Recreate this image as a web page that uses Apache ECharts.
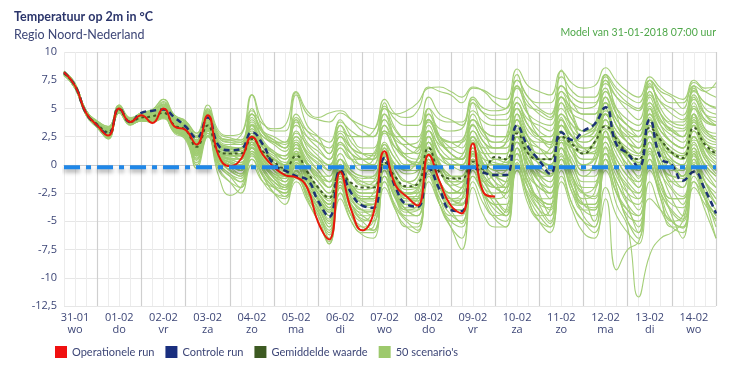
<!DOCTYPE html>
<html><head><meta charset="utf-8">
<script src="https://cdn.jsdelivr.net/npm/echarts@6/dist/echarts.min.js"></script>
<style>html,body{margin:0;padding:0;background:#fff}#c{width:732px;height:368px}</style>
</head><body><div id="c"></div>
<script>
// Days shown on the x axis and their weekday abbreviations
const days = ['31-01','01-02','02-02','03-02','04-02','05-02','06-02','07-02','08-02','09-02','10-02','11-02','12-02','13-02','14-02','15-02'];
const dayNames = ['wo','do','vr','za','zo','ma','di','wo','do','vr','za','zo','ma','di','wo'];
const hours = ['00','06','12','18'];
const yTicks = {min: -12.5, max: 10, step: 2.5};
const refLevel = -0.2;

// 6-hourly values from 31-01 06:00 to 15-02 00:00 (60 points)
const operationeel = [8.2,7.0,4.6,3.5, 2.6,5.0,3.8,4.4, 3.7,5.0,3.4,3.1, 1.8,4.4,0.8,-0.1, 0.5,2.5,0.9,-0.2, -0.9,-1.1,-2.0,-5.1, -6.6,-0.6,-4.0,-5.8, -4.3,1.2,-1.8,-2.8, -3.6,0.9,-1.5,-3.6, -4.3,1.9,-2.5,-2.8];
const controle = [8.2,7.0,4.6,3.5, 2.7,5.0,3.8,4.6, 4.8,4.9,4.2,3.4, 2.4,4.2,1.7,1.3, 1.4,2.9,1.8,0.0, -0.5,-1.0,-1.3,-3.2, -4.6,-0.5,-2.5,-3.6, -3.8,0.6,-2.0,-3.5, -3.7,-0.3,-2.2,-4.0, -4.1,-0.2,-0.7,-0.9, -0.9,3.5,1.6,0.4, -0.8,2.9,2.2,3.0, 3.6,5.1,1.8,1.0, -0.2,4.0,0.6,0.0, -1.4,-0.6,-2.2,-4.3];
const gemiddeld = [8.1,7.0,4.6,3.6, 2.9,4.9,3.8,4.2, 4.3,4.6,3.5,3.1, 1.6,3.5,1.2,1.0, 1.0,2.3,1.2,0.3, -0.3,0.8,-0.6,-2.0, -2.9,-0.7,-1.6,-2.0, -2.0,0.2,-1.1,-1.9, -1.7,1.5,-0.7,-1.2, -1.2,0.3,-0.4,0.7, 0.5,2.8,1.0,0.5, 0.5,2.5,1.8,1.0, 2.0,3.4,2.3,1.0, 0.5,3.3,2.2,1.1, 0.6,3.3,1.8,1.0];

const scenarios = [
[8.1,7.0,4.8,3.8,3.2,5.2,4.0,4.5,4.7,5.3,4.0,3.6, 2.5,4.8,2.6,2.2, 2.0,4.5,2.8,2.0, 1.5,3.8,2.0,1.2, 0.5,2.8,1.5,1.0, 0.8,3.5,2.2,1.8, 2.0,4.5,3.2,3.0, 3.2,5.5,4.6,4.4, 4.5,6.8,5.2,4.8, 4.2,6.5,5.5,5.0, 5.2,7.2,6.0,5.3, 4.8,6.9,5.6,5.0, 4.4,6.6,5.5,5.1],
[8.0,6.8,4.4,3.3,2.4,4.6,3.6,3.9,3.8,4.2,2.9,2.5, 0.5,2.8,0.2,-0.8, -1.5,1.5,-0.5,-1.8, -2.8,-0.6,-2.5,-3.8, -5.5,-1.5,-3.8,-5.0, -5.8,-1.5,-3.6,-4.8, -5.2,-0.8,-3.0,-4.4, -5.0,-0.5,-2.8,-3.6, -4.5,0.2,-2.0,-3.2, -4.0,0.8,-1.2,-2.5, -2.8,1.6,-0.5,-1.8, -3.0,1.2,-0.8,-2.2, -3.5,0.8,-1.0,-2.0],
[8.2,7.1,4.7,3.7,3.0,5.0,3.9,4.3,4.4,4.8,3.6,3.2, 1.0,4.2,1.0,0.2, 0.0,3.5,0.8,-0.5, -1.5,1.8,-0.8,-2.5, -3.8,0.5,-2.0,-3.5, -3.8,1.5,-1.2,-2.8, -3.0,2.5,-0.2,-2.0, -2.5,2.2,0.0,-1.5, -2.0,4.5,1.2,-0.8, -1.5,4.2,1.5,0.0, 0.8,5.5,2.2,0.5, -1.2,5.0,2.0,-0.2, -1.0,4.5,1.5,0.2],
[8.2,7.0,4.6,3.6,3.1,5.1,4.1,4.6,4.9,5.8,4.4,3.9, 2.8,5.3,3.0,2.6, 2.8,6.2,3.8,3.0, 3.0,6.4,4.5,4.0, 3.8,4.6,4.0,3.5, 3.2,5.8,4.5,4.2, 4.8,6.9,6.5,6.2, 5.5,6.8,6.6,6.0, 5.8,8.5,7.0,6.5, 6.2,8.3,7.2,6.8, 7.0,8.6,7.4,6.5, 6.0,7.8,6.8,6.2, 5.8,7.5,6.8,6.9],
[8.0,6.9,4.5,3.5,2.8,4.8,3.7,4.1,4.1,4.4,3.3,2.9, 1.2,3.2,0.8,0.5, 0.2,2.0,0.5,-0.8, -1.0,1.0,-1.5,-3.0, -4.5,-1.0,-2.5,-3.6, -3.5,0.5,-1.8,-2.6, -2.2,1.6,-0.5,-1.8, -1.5,0.8,-1.0,-2.0, -2.5,1.5,-1.5,-3.0, -3.5,0.5,-2.0,-3.5, -3.8,0.0,-3.5,-5.5, -11.7,-8.0,-6.5,-6.0, -5.0,-1.5,-3.0,-4.5],
[8.1,6.9,4.6,3.5,3.0,4.8,3.6,4.0,3.9,4.3,3.0,2.6, 1.4,3.6,1.0,0.6, 0.5,2.0,0.8,-0.2, -0.8,0.5,-1.2,-2.5, -3.5,-0.5,-2.2,-3.0, -3.0,0.0,-1.6,-2.8, -3.2,0.5,-1.8,-3.0, -3.4,-0.2,-1.5,-3.0, -4.2,-0.5,-2.8,-4.5, -5.5,-1.0,-3.5,-5.0, -6.0,-3.0,-9.3,-7.5, -6.8,-3.0,-4.0,-5.0, -5.6,-2.0,-3.5,-4.8],
[8.3,7.2,4.8,3.7,2.9,5.1,3.9,4.4,4.5,5.0,3.8,3.3, 2.0,4.6,2.4,2.2, 2.6,4.8,3.6,3.2, 3.5,6.5,4.8,4.2, 4.6,4.8,4.0,3.0, 2.5,5.0,3.2,2.0, 1.5,4.0,2.2,1.0, 0.5,3.6,2.0,1.5, 1.5,5.0,3.5,2.5, 2.0,5.5,4.0,3.0, 3.0,6.0,4.0,2.8, 2.0,5.5,3.8,3.2, 2.5,5.2,4.0,3.5],
[8.0,6.8,4.5,3.4,2.3,4.7,3.7,4.0,4.2,4.6,3.4,2.8, 1.2,3.0,0.5,0.0, -0.5,1.5,0.0,-1.2, -2.0,-0.5,-2.5,-4.2, -6.0,-2.0,-4.5,-5.5, -5.0,-0.5,-3.0,-4.0, -4.0,0.0,-2.5,-3.5, -3.0,1.0,-1.2,-2.0, -1.5,2.5,0.5,-0.5, -0.8,3.0,1.5,0.5, 0.5,4.0,2.0,0.8, 0.0,4.2,2.2,1.0, 0.5,3.8,2.0,1.2],
[8.2,7.1,4.8,3.9,3.4,5.0,4.0,4.5,4.5,4.9,3.7,3.4, 2.0,4.0,1.8,1.5, 1.2,3.2,1.8,1.0, 0.5,2.5,0.8,-0.5, -1.5,1.0,-0.5,-1.0, -1.2,2.0,0.5,-0.2, 0.0,3.0,1.0,0.5, 0.8,3.5,2.0,1.5, 2.0,5.0,3.0,2.2, 1.8,4.5,3.0,2.5, 3.0,5.5,3.5,2.5, 1.5,5.2,3.5,2.6, 2.0,5.0,3.2,2.8],
[7.9,6.9,4.6,3.7,3.3,5.3,4.2,4.4,4.3,4.7,3.1,2.2, 0.0,3.0,0.0,-1.0, -2.0,1.0,-1.0,-2.5, -3.5,-0.5,-2.8,-4.5, -7.0,-2.5,-5.0,-6.2, -6.5,-1.0,-4.0,-5.5, -6.0,0.5,-3.5,-5.5, -6.5,0.5,-3.0,-4.8, -5.5,1.5,-2.0,-4.0, -5.2,2.0,-1.0,-3.5, -3.5,3.0,0.0,-2.5, -4.0,2.5,-0.5,-3.0, -4.5,1.5,-1.5,-3.5],
[8.2,7.0,4.6,3.5,2.7,5.0,3.8,4.5,4.7,4.9,4.1,3.4, 2.2,4.2,1.6,1.2, 1.4,2.8,1.6,0.2, -0.4,-0.8,-1.5,-3.0, -4.2,-0.2,-2.2,-3.2, -3.5,0.8,-1.8,-3.2, -3.2,0.2,-2.0,-3.5, -3.6,0.2,-0.5,-0.8, -0.5,3.2,1.5,0.5, -0.5,3.0,2.0,2.6, 3.2,4.8,2.2,1.2, 0.2,3.8,1.0,0.3, -1.0,0.2,-1.5,-3.0],
[8.1,7.0,4.5,3.4,2.7,4.7,3.5,4.0,4.0,4.5,3.2,2.7, 1.8,3.8,1.4,1.0, 1.0,2.6,1.0,0.0, -0.5,1.5,0.0,-1.2, -2.0,0.5,-1.0,-1.8, -1.5,1.8,-0.5,-1.5, -1.0,2.5,0.2,-1.0, -1.5,1.5,-0.5,-2.0, -2.5,1.5,-1.5,-3.0, -3.5,0.0,-2.5,-4.0, -4.5,-0.5,-2.5,-4.0, -5.5,0.0,-2.5,-4.2, -5.0,-0.5,-3.0,-4.5],
[8.0,7.0,4.7,3.6,2.5,4.9,3.8,4.3,4.6,5.5,4.2,3.8, 1.5,4.0,1.5,1.2, 1.0,3.5,1.5,0.5, 0.0,2.0,0.2,-1.0, -1.0,2.5,1.0,0.0, 0.5,4.0,2.0,0.8, 0.5,4.5,2.5,1.5, 1.0,4.5,2.8,2.0, 2.5,7.0,4.5,3.0, 2.5,6.5,4.5,3.0, 3.5,7.5,5.0,3.5, 3.0,7.2,5.0,3.8, 3.5,6.8,5.0,4.5],
[8.1,7.0,4.6,3.6,2.9,4.9,3.8,4.2,4.3,4.7,3.5,3.1, 1.6,3.4,1.2,0.8, 0.8,2.2,1.0,0.0, -0.8,0.6,-0.8,-2.2, -3.0,-0.5,-1.8,-2.5, -2.5,0.5,-1.0,-2.0, -2.0,1.2,-0.5,-1.5, -1.5,0.5,-0.2,0.5, 0.2,2.5,1.0,0.2, 0.0,2.2,1.5,1.0, 1.8,3.2,2.0,0.8, 0.2,3.0,2.0,1.0, 0.5,3.0,1.5,0.8],
[8.0,6.9,4.5,3.5,2.8,4.8,3.7,4.1,4.0,4.3,3.0,2.4, 0.8,2.6,-0.5,-1.5, -2.0,0.5,-1.0,-2.0, -2.5,-1.0,-2.0,-3.0, -4.0,-1.5,-2.5,-3.0, -2.5,1.0,0.0,-0.5, 0.5,3.0,1.8,1.5, 2.0,4.0,3.0,2.5, 2.5,5.5,3.5,2.5, 1.5,4.0,2.5,1.5, 1.0,4.5,2.0,0.5, -0.5,3.5,1.5,0.0, -1.0,2.5,0.5,-0.5],
[8.2,7.1,4.8,3.8,3.1,5.2,4.1,4.6,4.8,5.4,4.2,3.7, 2.2,4.5,2.2,1.8, 1.8,3.8,2.5,2.0, 1.5,3.5,2.5,2.0, 1.5,3.0,2.5,2.5, 3.0,5.0,4.5,4.8, 5.5,6.8,6.9,6.5, 6.0,6.9,6.5,5.5, 5.0,7.5,6.0,5.0, 4.5,7.0,6.0,5.5, 5.5,7.8,6.5,5.5, 5.0,7.5,6.2,5.5, 5.5,7.3,6.5,6.0],
[8.0,6.8,4.4,3.3,2.5,4.7,3.6,3.9,3.9,4.3,3.0,2.6, 0.8,3.0,0.5,-0.5, -1.0,1.2,-0.5,-1.5, -2.0,0.0,-2.0,-3.5, -5.0,-1.2,-3.0,-4.0, -4.5,0.0,-2.5,-4.0, -4.5,1.0,-2.0,-4.0, -5.2,1.0,-2.5,-4.5, -5.0,1.0,-3.0,-5.0, -6.0,-0.5,-3.5,-5.0, -5.5,0.5,-2.5,-4.0, -4.5,1.0,-2.0,-3.5, -3.8,0.5,-2.0,-3.5],
[8.1,7.0,4.6,3.6,3.0,5.0,3.9,4.3,4.4,4.9,3.6,3.2, 1.3,3.6,1.3,1.0, 0.5,2.8,1.2,0.5, -0.2,1.8,0.2,-1.0, -2.0,0.5,-0.8,-1.5, -1.8,1.0,-0.5,-1.5, -1.8,2.0,0.0,-1.0, -1.5,1.0,0.0,-0.5, -1.0,3.0,1.5,0.5, 0.0,3.5,2.5,2.0, 2.5,4.5,3.0,2.0, 1.0,4.5,3.0,2.0, 1.5,4.0,2.5,2.0],
[8.2,7.0,4.6,3.5,2.6,4.8,3.7,4.2,4.2,4.6,3.3,2.9, 1.0,3.5,0.8,0.2, -0.5,2.0,0.0,-1.0, -1.5,1.2,-1.0,-2.5, -3.5,0.0,-2.0,-3.0, -3.0,1.5,-1.0,-2.5, -2.5,2.0,-0.5,-2.0, -2.5,2.5,0.0,-1.5, -3.0,3.5,0.0,-2.5, -4.5,2.5,-1.0,-3.5, -4.0,3.0,-0.5,-3.5, -6.0,2.0,-1.5,-4.5, -6.5,1.0,-2.5,-5.5],
[8.3,7.2,4.8,3.7,3.0,5.1,4.0,4.5,4.6,5.1,3.9,3.5, 2.4,4.4,2.4,2.0, 2.0,3.6,2.5,1.8, 1.2,2.8,1.8,0.8, 0.0,1.8,1.0,0.5, 0.5,2.8,1.5,1.0, 1.2,3.8,2.5,2.0, 2.2,4.8,3.8,3.5, 3.5,6.0,4.5,3.8, 3.5,6.0,5.0,4.5, 4.5,6.5,5.0,4.0, 3.5,6.2,4.5,3.8, 3.8,5.8,4.5,4.2],
[8.0,6.9,4.5,3.5,2.7,4.8,3.7,4.0,4.0,4.4,3.1,2.7, 1.0,3.2,0.6,-0.2, -0.8,1.6,-0.2,-1.5, -2.2,-0.5,-3.0,-5.0, -7.0,-2.0,-4.5,-5.8, -5.5,0.0,-2.5,-3.5, -3.5,0.5,-2.0,-3.2, -3.0,1.2,-1.0,-2.0, -2.5,2.0,0.0,-1.5, -2.0,2.0,0.5,-1.0, -1.0,3.0,1.0,-0.5, -1.5,3.0,0.5,-1.0, -1.0,2.5,0.5,-0.8],
[8.1,7.0,4.6,3.6,2.9,4.9,3.8,4.2,4.2,4.5,3.4,3.0, 1.8,3.2,1.5,1.2, 1.0,2.0,1.2,0.6, 0.0,1.0,0.0,-1.0, -1.5,0.0,-0.8,-1.2, -1.0,0.8,0.0,-0.5, -0.5,1.5,0.5,0.0, 0.0,1.2,0.5,0.2, 0.0,2.0,1.0,0.5, 0.5,2.0,1.5,1.0, 1.2,2.5,1.5,0.8, 0.5,2.5,1.5,1.0, 0.8,2.2,1.5,1.0],
[8.0,6.9,4.5,3.4,2.6,4.8,3.7,4.1,4.1,4.4,3.2,2.8, 1.0,3.0,0.8,0.0, -0.5,1.8,0.0,-1.0, -1.5,0.5,-1.5,-3.0, -4.5,-1.0,-3.0,-4.0, -4.0,0.0,-2.5,-4.0, -4.5,-0.5,-3.5,-5.5, -7.5,-2.0,-4.5,-5.5, -5.5,0.0,-3.0,-4.5, -4.0,1.0,-1.5,-3.0, -2.5,2.0,-0.5,-2.0, -2.5,2.0,0.0,-1.5, -2.0,1.5,0.0,-1.0],
[8.1,7.0,4.7,3.7,3.1,5.0,3.9,4.4,4.6,5.2,3.9,3.4, 1.5,4.8,1.8,1.0, 0.5,5.0,2.0,0.5, 0.0,4.0,1.5,0.5, -0.5,3.5,1.5,0.5, 0.0,5.5,2.0,0.5, 0.0,5.0,2.5,1.0, 0.5,5.5,3.0,1.5, 2.0,8.0,4.5,2.5, 2.0,8.4,4.5,2.5, 3.0,8.0,4.5,2.5, 2.5,7.5,4.5,3.0, 2.5,7.0,4.5,3.5],
[8.1,7.0,4.6,3.6,2.8,4.9,3.8,4.2,4.2,4.6,3.4,3.0, 1.4,3.3,1.0,0.5, 0.2,2.0,0.6,-0.5, -1.0,0.2,-1.2,-2.8, -4.0,-1.0,-2.5,-3.2, -3.2,0.0,-1.8,-2.8, -2.8,0.8,-1.5,-2.5, -2.5,0.0,-1.5,-1.0, -1.0,2.0,0.0,-1.0, -1.5,1.5,0.0,-1.0, 0.0,2.5,0.5,-1.0, -1.5,2.0,0.0,-1.0, -1.2,1.8,-0.2,-1.5],
[8.2,7.1,4.8,3.8,3.2,5.2,4.0,4.5,4.7,5.3,4.0,3.6, 2.2,4.6,2.0,1.6, 1.5,4.0,2.2,1.2, 0.8,3.0,1.0,0.0, -1.0,1.5,0.5,0.0, 0.0,3.5,1.5,0.5, 0.2,3.0,1.0,0.0, -0.5,2.0,0.0,-1.0, -1.5,2.5,-0.5,-2.0, -2.5,1.5,-1.0,-2.5, -3.0,1.0,-1.5,-3.0, -3.5,1.5,-1.5,-3.0, -3.0,1.0,-1.5,-3.0],
[8.0,6.8,4.4,3.3,2.4,4.6,3.6,3.9,3.8,4.2,2.9,2.5, 0.6,2.8,0.2,-0.8, -1.2,1.0,-0.8,-2.0, -2.5,-1.0,-2.8,-4.5, -6.2,-2.5,-4.5,-5.5, -5.8,-1.5,-3.8,-5.0, -5.8,-1.0,-3.5,-5.0, -5.5,-1.5,-3.5,-4.5, -4.0,0.5,-1.5,-3.0, -3.0,1.5,-0.5,-2.0, -2.0,2.0,0.0,-1.5, -2.5,2.0,0.0,-2.0, -2.8,1.2,-0.5,-2.0],
[8.2,7.0,4.6,3.6,3.0,5.0,3.8,4.3,4.4,4.8,3.6,3.2, 1.7,3.7,1.3,0.9, 0.8,2.5,1.0,0.2, -0.5,1.0,-0.5,-1.5, -2.5,0.0,-1.0,-1.5, -1.5,1.5,0.0,-0.8, -0.5,2.5,1.0,0.5, 0.5,2.5,1.5,1.5, 1.5,4.0,2.5,2.0, 2.0,4.5,3.5,3.0, 3.5,5.5,4.0,3.0, 2.5,5.5,4.0,3.0, 3.0,5.0,3.8,3.5],
[7.9,6.9,4.5,3.5,2.6,4.7,3.6,4.0,3.8,4.1,2.8,2.3, 0.2,2.5,-0.3,-1.5, -2.5,0.0,-1.5,-2.0, -2.5,-0.5,-2.0,-3.5, -5.0,-2.0,-3.5,-4.5, -5.0,-1.0,-3.0,-4.2, -4.0,0.0,-2.0,-3.0, -2.5,1.5,0.0,-1.0, -2.0,3.0,0.5,-1.5, -3.0,2.5,0.0,-2.5, -5.0,1.0,-2.0,-5.0, -6.5,0.5,-3.0,-5.5, -5.5,0.0,-3.0,-5.0],
[8.2,7.1,4.8,3.8,3.3,5.3,4.1,4.6,4.8,5.6,4.3,3.8, 2.8,5.0,2.8,2.4, 2.2,4.5,3.0,2.2, 1.8,4.5,3.0,2.0, 1.0,4.0,2.5,1.5, 1.5,4.5,3.0,2.0, 1.5,4.0,2.5,2.0, 1.5,4.0,2.5,2.0, 2.0,5.5,3.5,2.5, 2.5,6.0,4.0,3.0, 3.5,6.8,4.5,3.5, 3.0,6.5,4.5,3.5, 3.2,6.2,4.5,3.8],
[8.1,7.0,4.6,3.6,2.8,4.9,3.8,4.3,4.3,4.7,3.5,3.1, 1.5,3.8,1.2,0.6, 0.5,2.6,1.0,-0.2, -1.0,1.0,-0.8,-2.2, -3.2,-0.5,-1.8,-2.5, -2.5,0.8,-1.0,-2.2, -2.0,2.0,0.0,-1.5, -2.0,1.0,-0.5,-1.0, -1.5,4.0,1.0,-1.0, -2.0,4.0,1.5,-0.5, -0.5,5.0,2.0,-0.5, -2.0,5.0,1.5,-1.0, -2.0,4.5,1.0,-0.5],
[8.0,6.9,4.6,3.5,2.7,4.8,3.7,4.1,4.0,4.4,3.2,2.8, 1.2,3.0,0.6,0.0, -0.5,1.2,0.0,-1.0, -1.8,-0.2,-1.8,-3.2, -4.8,-1.8,-3.2,-4.0, -4.2,-1.0,-2.8,-3.8, -3.8,-0.5,-2.5,-3.8, -4.0,-1.0,-2.5,-3.5, -3.5,0.0,-2.0,-3.5, -3.8,0.0,-2.0,-3.5, -3.5,0.5,-1.5,-3.5, -4.5,-0.5,-2.5,-4.0, -4.8,-1.0,-3.0,-4.5],
[8.2,7.0,4.7,3.7,3.1,5.1,4.0,4.5,4.6,5.2,3.9,3.5, 2.0,4.5,2.0,1.5, 1.5,6.2,3.0,2.0, 2.0,6.2,3.5,2.5, 1.0,3.5,2.0,1.0, 0.5,4.5,2.0,0.5, 0.0,3.5,1.5,0.5, 0.0,3.0,1.0,0.0, 0.5,5.0,2.5,1.0, 1.0,5.5,3.0,1.5, 1.5,6.0,3.5,2.0, 1.0,6.0,3.5,2.0, 1.5,5.5,3.2,2.2],
[8.1,7.0,4.6,3.6,2.9,4.9,3.8,4.2,4.3,4.6,3.5,3.1, 1.5,3.5,1.1,0.8, 0.8,2.4,1.0,0.0, -0.6,0.8,-0.6,-2.0, -2.8,-0.8,-1.8,-2.2, -2.0,0.2,-1.2,-2.0, -1.5,1.5,-0.5,-1.2, -1.0,0.5,-0.2,0.5, 0.5,3.0,1.2,0.5, 0.5,2.8,2.0,1.2, 2.0,3.5,2.5,1.2, 0.8,3.5,2.2,1.2, 0.8,3.5,2.0,1.2],
[8.0,6.8,4.4,3.3,2.4,4.6,3.6,3.9,3.8,4.2,2.9,2.5, -0.3,2.5,-1.0,-2.7, -2.0,0.5,-1.5,-2.5, -2.8,-1.2,-2.5,-3.8, -5.2,-1.8,-3.5,-4.2, -4.0,0.0,-2.0,-3.0, -2.5,1.5,-0.5,-1.5, -1.5,2.0,0.5,-0.5, -0.5,3.5,1.5,0.0, -1.0,3.0,1.0,-0.5, 0.0,4.0,1.5,0.0, -1.0,3.5,1.0,-0.5, -0.5,3.0,1.0,0.0],
[8.3,7.2,4.8,3.7,2.9,5.1,3.9,4.4,4.5,5.0,3.8,3.3, 1.8,4.0,1.8,1.4, 1.2,3.0,1.8,1.2, 0.5,2.2,1.0,0.2, -0.5,1.5,0.5,0.5, 1.0,3.0,2.5,2.5, 2.5,5.0,4.0,3.8, 3.8,6.0,5.0,4.8, 5.0,7.5,6.0,5.5, 5.5,7.8,6.5,6.0, 6.0,8.0,6.8,6.0, 5.5,7.5,6.5,6.0, 5.0,7.0,6.5,7.3],
[8.0,6.9,4.5,3.5,2.8,4.8,3.7,4.1,4.1,4.4,3.3,2.9, 0.8,2.8,0.4,-0.4, -0.8,1.5,-0.3,-1.5, -2.0,0.0,-2.0,-3.8, -5.5,-1.5,-3.5,-4.5, -4.5,-0.5,-2.8,-4.0, -3.5,0.0,-2.5,-3.8, -4.0,-0.5,-2.5,-4.0, -4.5,-0.5,-3.5,-5.0, -5.5,-1.5,-4.0,-6.0, -6.5,-2.0,-4.5,-6.0, -7.0,-1.5,-4.0,-5.5, -6.0,-1.5,-4.0,-6.5],
[8.2,7.1,4.8,3.9,3.4,5.0,4.0,4.5,4.5,4.9,3.7,3.4, 2.0,4.2,1.8,1.4, 1.5,3.5,2.0,1.0, 0.0,2.0,0.5,-0.5, -1.5,2.0,0.5,-0.5, -0.5,3.0,1.0,0.0, 0.5,4.0,2.0,1.0, 0.5,3.5,2.0,1.0, 1.0,4.5,2.5,1.5, 0.5,4.0,2.5,1.5, 1.5,4.5,2.5,1.0, 0.0,4.0,2.0,0.5, 0.0,3.5,1.5,0.5],
[8.1,6.9,4.6,3.5,3.0,4.8,3.6,4.0,3.9,4.3,3.0,2.6, 1.1,3.3,0.7,0.0, -0.5,1.8,0.2,-1.2, -1.8,0.2,-2.2,-4.0, -6.5,-1.5,-4.0,-5.0, -4.0,1.0,-1.5,-2.5, -2.0,2.0,0.0,-1.0, -1.0,2.5,1.0,0.0, 0.0,4.0,2.0,0.5, 0.0,3.5,2.0,1.0, 1.0,4.5,2.5,1.0, 0.0,4.5,2.5,1.0, 0.5,4.0,2.0,1.5],
[8.1,7.0,4.6,3.6,2.9,5.0,3.8,4.3,4.3,4.7,3.4,3.0, 1.3,3.5,1.0,0.4, 0.0,2.0,0.5,-0.5, -1.0,1.0,-1.0,-2.5, -3.5,-0.5,-2.0,-3.0, -3.0,1.0,-1.5,-3.0, -3.0,1.5,-1.5,-3.0, -3.5,1.0,-1.5,-3.0, -4.0,2.5,-1.0,-3.5, -5.0,1.5,-2.0,-4.5, -5.5,1.5,-2.0,-5.0, -6.0,1.5,-2.5,-5.0, -5.5,0.5,-3.0,-6.5],
[8.2,7.0,4.6,3.6,3.1,5.1,4.1,4.6,4.9,5.8,4.4,3.9, 2.6,4.9,2.6,2.2, 2.2,4.5,3.0,2.5, 2.0,4.2,2.5,1.5, 0.5,2.5,1.5,1.0, 1.0,4.0,2.5,1.5, 1.0,4.0,2.0,1.0, 0.5,3.0,1.5,0.5, 0.5,4.0,2.0,1.0, 1.5,5.0,3.5,2.5, 2.5,5.5,3.5,2.0, 1.5,5.0,3.0,2.0, 1.5,4.5,3.0,2.5],
[8.0,6.9,4.5,3.5,2.8,4.8,3.7,4.1,4.1,4.4,3.3,2.9, 1.3,3.1,0.8,0.3, 0.0,1.8,0.4,-0.8, -1.2,0.4,-1.4,-3.0, -4.2,-1.2,-2.8,-3.5, -3.5,-0.2,-2.2,-3.5, -3.0,0.5,-1.5,-2.5, -2.0,0.5,-0.5,-1.0, -1.0,2.5,0.5,-0.5, -1.0,2.5,1.0,0.0, 0.5,3.5,1.5,0.0, -0.5,3.0,1.0,0.0, -0.5,2.5,0.8,-0.5],
[8.2,7.1,4.7,3.7,3.0,5.0,3.9,4.3,4.4,4.8,3.6,3.2, 1.9,3.9,1.5,1.2, 1.2,2.8,1.5,0.8, 0.2,1.5,0.2,-0.8, -2.0,0.5,-0.5,-1.0, -1.0,1.8,0.5,-0.5, -0.5,3.0,1.0,0.0, 0.0,2.0,1.0,1.0, 1.0,3.5,2.0,1.5, 1.0,3.5,2.5,2.0, 2.5,4.5,3.0,2.0, 1.5,4.5,3.0,2.0, 1.5,4.2,2.8,2.2],
[8.0,6.8,4.5,3.4,2.3,4.7,3.7,4.0,4.2,4.6,3.4,2.8, 0.4,2.6,0.0,-1.0, -1.5,0.8,-1.0,-2.5, -3.0,-1.5,-3.2,-5.0, -6.8,-3.0,-5.0,-6.0, -6.0,-2.0,-4.0,-5.5, -5.5,-1.5,-3.5,-5.0, -5.0,-1.0,-2.5,-3.0, -2.5,2.0,0.0,-1.0, -1.0,3.0,1.5,0.5, 0.5,4.0,2.0,0.5, -0.5,4.0,2.0,0.5, 0.0,3.5,1.5,0.8],
[8.3,7.2,4.8,3.7,3.1,5.2,4.1,4.6,4.7,5.4,4.1,3.6, 2.4,4.7,2.4,2.0, 1.8,4.2,2.8,2.2, 1.5,4.0,3.0,2.5, 2.0,3.8,3.0,2.5, 2.5,5.2,4.0,3.5, 3.5,6.0,4.5,4.0, 3.5,5.8,4.5,4.0, 4.0,7.0,5.5,4.5, 4.0,7.0,5.5,4.5, 4.5,7.5,6.0,4.8, 4.0,7.0,5.5,4.5, 4.0,6.5,5.5,5.0],
[8.1,6.9,4.6,3.5,3.0,4.8,3.6,4.0,3.9,4.3,3.0,2.6, 1.0,3.2,0.7,0.2, -0.2,2.0,0.2,-1.0, -1.2,0.8,-1.0,-2.5, -3.8,-0.8,-2.2,-3.0, -3.0,0.5,-1.8,-3.0, -3.0,1.0,-1.5,-3.0, -3.0,0.0,-2.0,-3.5, -4.5,-0.5,-2.5,-4.0, -4.5,0.5,-2.5,-4.0, -4.0,0.5,-2.5,-4.5, -5.0,0.0,-3.0,-5.0, -4.5,0.0,-2.5,-4.0],
[8.1,7.0,4.6,3.6,2.9,4.9,3.8,4.2,4.3,4.8,3.6,3.1, 1.7,3.6,1.3,0.8, 1.0,2.4,1.2,0.5, 0.0,1.2,0.0,-1.5, -2.5,0.0,-1.0,-1.8, -2.0,1.0,-0.5,-1.5, -1.0,2.0,0.0,-1.0, -1.0,1.5,0.0,0.0, 0.0,3.0,1.5,0.5, 0.5,3.5,2.0,1.5, 2.0,4.5,2.5,1.5, 1.0,4.0,2.5,1.5, 1.0,3.8,2.2,1.8],
[8.0,6.8,4.5,3.4,2.5,4.7,3.6,4.0,4.0,4.4,3.1,2.6, 0.9,3.0,0.5,-0.5, -1.0,1.5,-0.5,-1.8, -2.2,-0.8,-2.5,-4.2, -5.8,-1.2,-3.5,-4.8, -5.0,-0.5,-3.0,-4.5, -4.5,-0.5,-3.0,-4.5, -4.5,0.0,-2.0,-2.5, -2.0,2.0,0.0,-1.5, -2.5,1.5,0.0,-1.5, -1.5,2.5,0.5,-1.0, -2.0,2.5,0.5,-1.5, -1.5,2.0,0.0,-1.0],
[8.2,7.0,4.7,3.7,3.1,5.0,3.9,4.4,4.5,5.0,3.8,3.3, 2.1,4.3,2.0,1.6, 1.4,3.2,1.8,1.0, 0.8,2.5,1.2,0.5, 0.0,2.0,1.0,0.5, 0.5,3.0,1.5,1.0, 1.5,4.0,2.5,2.0, 2.0,4.0,3.0,2.5, 2.5,5.5,4.0,3.5, 3.0,6.0,4.5,4.0, 3.5,6.5,4.5,3.5, 2.5,6.5,4.0,3.0, 2.5,6.0,4.0,3.5],
[8.1,7.0,4.6,3.5,2.8,4.8,3.7,4.1,4.1,4.5,3.3,2.9, 1.4,3.4,1.0,0.5, 0.5,2.2,0.8,-0.2, -0.8,0.5,-1.0,-2.5, -3.5,-1.0,-2.0,-2.8, -2.8,0.0,-1.5,-2.5, -2.5,0.5,-1.5,-2.5, -2.0,0.0,-1.5,-2.0, -2.0,1.0,-1.0,-2.0, -2.5,0.5,-1.0,-2.5, -2.0,1.0,-1.0,-2.5, -3.0,0.5,-1.5,-3.0, -3.0,0.0,-1.5,-2.5]
];

// categories: 31-01 06:00 ... 15-02 00:00, 6-hourly
const categories = [];
days.forEach((d, di) => {
  hours.forEach(h => {
    if (di === 0 && h === '00') return;
    if (di === days.length - 1 && h !== '00') return;
    categories.push(d + ' ' + h);
  });
});
const dayNameOf = {};
days.slice(0, dayNames.length).forEach((d, i) => { dayNameOf[d] = dayNames[i]; });

const labelColor = '#3d4677';
const chart = echarts.init(document.getElementById('c'), null, {renderer: 'canvas'});

const series = [];
scenarios.forEach(s => {
  series.push({name: "50 scenario's", type: 'line', data: s, smooth: 0.5, symbol: 'none', silent: true,
    lineStyle: {width: 1.1, color: '#a0cc72', opacity: 0.95}, itemStyle: {color: '#9dc96c'}, z: 2});
});
series.push({name: 'Gemiddelde waarde', type: 'line', data: gemiddeld, smooth: 0.5, symbol: 'none',
  lineStyle: {width: 2, color: '#3f5c25', type: [3, 3]}, itemStyle: {color: '#3d5a22'}, z: 4});
series.push({name: 'Controle run', type: 'line', data: controle, smooth: 0.5, symbol: 'none',
  lineStyle: {width: 2.5, color: '#1c3275', type: [6, 4]}, itemStyle: {color: '#1a2f7f'}, z: 5});
series.push({name: 'Operationele run', type: 'line', data: operationeel, smooth: 0.5, symbol: 'none',
  lineStyle: {width: 2, color: '#e8190c'}, itemStyle: {color: '#f01010'}, z: 6});
series.push({name: 'ref', type: 'line', data: categories.map(() => refLevel), symbol: 'none', silent: true,
  lineStyle: {width: 4, color: '#1f87e8', type: [16, 6, 5, 6], shadowColor: 'rgba(0,0,0,0.35)', shadowBlur: 4, shadowOffsetY: 3}, z: 7});

chart.setOption({
  animation: false,
  backgroundColor: '#fff',
  title: [
    {text: 'Temperatuur op 2m in °C', left: 9, top: 5, textStyle: {fontFamily: 'Lato', fontSize: 12.5, fontWeight: 'bold', color: '#2b356b'}},
    {text: 'Regio Noord-Nederland', left: 9, top: 23, textStyle: {fontFamily: 'Lato', fontSize: 12.5, fontWeight: 'normal', color: '#3d4677'}},
    {text: 'Model van 31-01-2018 07:00 uur', right: 11, top: 22, textStyle: {fontFamily: 'Lato', fontSize: 10.5, fontWeight: 'normal', color: '#4fa84a'}}
  ],
  legend: {
    data: ['Operationele run', 'Controle run', 'Gemiddelde waarde', "50 scenario's"],
    left: 50, top: 341, icon: 'rect', itemWidth: 12, itemHeight: 12, itemGap: 11,
    textStyle: {fontFamily: 'Lato', fontSize: 11, color: labelColor}
  },
  grid: {left: 64, right: 16, top: 52, bottom: 62},
  xAxis: [
    {type: 'category', data: categories, boundaryGap: false,
      axisLine: {lineStyle: {color: '#cccccc'}}, axisTick: {show: false},
      axisLabel: {interval: (i, v) => v.slice(6) === '12', color: labelColor, fontFamily: 'Open Sans', fontSize: 11, lineHeight: 12, margin: 6,
        formatter: v => v.slice(0, 5) + '\n' + dayNameOf[v.slice(0, 5)]},
      splitLine: {show: true, interval: (i, v) => v.slice(6) === '00', lineStyle: {color: '#cfcfcf', width: 1.2}}, z: 1},
    {type: 'category', data: categories, boundaryGap: false, position: 'bottom',
      axisLine: {show: false}, axisTick: {show: false}, axisLabel: {show: false},
      splitLine: {show: true, interval: 0, lineStyle: {color: '#ececec', width: 1}}}
  ],
  yAxis: {type: 'value', min: yTicks.min, max: yTicks.max, interval: yTicks.step,
    axisLine: {show: false}, axisTick: {show: false},
    axisLabel: {color: labelColor, fontFamily: 'Open Sans', fontSize: 11, margin: 7, formatter: v => String(v).replace('.', ',')},
    splitLine: {lineStyle: {color: '#e6e6e6'}}},
  series: series
});
</script>
</body></html>
